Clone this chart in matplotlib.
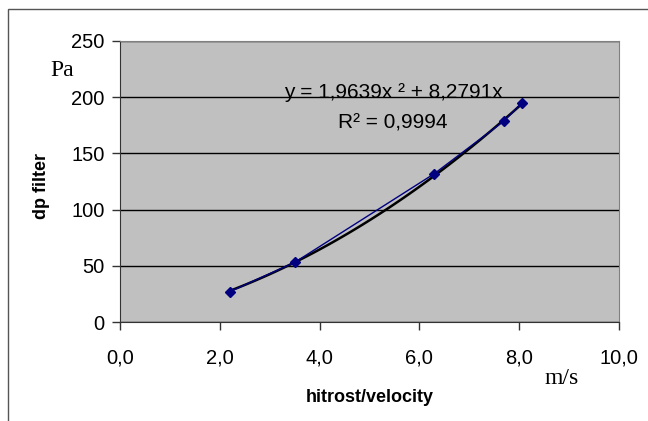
#dp filter vs. velocity, with polynomial trendline
import numpy as np
import matplotlib.pyplot as plt
from matplotlib.patches import Rectangle

# measured points
hitrost = [2.2, 3.5, 6.3, 7.7, 8.05]
dp = [27, 53, 132, 179, 195]

# trendline coefficients (x^2, x, const)
trend_coef = [1.9639, 8.2791, 0.0]

x_ticks = [0, 2, 4, 6, 8, 10]
x_labels = ["0,0", "2,0", "4,0", "6,0", "8,0", "10,0"]
y_ticks = [0, 50, 100, 150, 200, 250]

plt.rcParams['font.family'] = ['Liberation Sans', 'DejaVu Sans']

fig = plt.figure(figsize=(6.48, 4.21), dpi=100)
fig.patch.set_facecolor('white')

# outer frame (only left and top visible)
fig.patches.append(Rectangle((8/648, -0.1), 1.2, (421-9)/421 + 0.1, transform=fig.transFigure,
                             fill=False, edgecolor='#555555', linewidth=1.0))

ax = fig.add_axes([120/648, (421-322)/421, 499/648, 281/421])
ax.set_facecolor('#c0c0c0')

ax.set_xlim(0, 10)
ax.set_ylim(0, 250)
ax.set_xticks(x_ticks)
ax.set_xticklabels(x_labels)
ax.set_yticks(y_ticks)
ax.tick_params(axis='both', direction='out', length=6, width=1, color='#333333',
               labelsize=14.5, pad=5)
ax.tick_params(axis='x', pad=13)
for s in ['left', 'bottom']:
    ax.spines[s].set_color('#333333')
for s in ['top', 'right']:
    ax.spines[s].set_color('#808080')

ax.yaxis.grid(True, color='black', linewidth=1)
ax.set_axisbelow(True)

# data series
ax.plot(hitrost, dp, color='#000080', linewidth=1, marker='D', markersize=5, zorder=3)

# trendline
xt = np.linspace(min(hitrost), max(hitrost), 100)
ax.plot(xt, np.polyval(trend_coef, xt), color='black', linewidth=1.8, zorder=2)

ax.text(5.47, 204, "y = 1,9639x \u00b2 + 8,2791x", fontsize=15, ha='center', va='center')
ax.text(5.47, 177, "R\u00b2 = 0,9994", fontsize=15, ha='center', va='center')

fig.text(42/648, 1 - 186/421, "dp filter", rotation=90, fontsize=13, fontweight='bold',
         ha='center', va='center')
fig.text(370/648, 1 - 397/421, "hitrost/velocity", fontsize=13, fontweight='bold',
         ha='center', va='center')
fig.text(62/648, 1 - 70/421, "Pa", family='Liberation Serif', fontsize=17,
         ha='center', va='center')
fig.text(562/648, 1 - 378/421, "m/s", family='Liberation Serif', fontsize=17,
         ha='center', va='center')

plt.savefig("out.png", dpi=100)
